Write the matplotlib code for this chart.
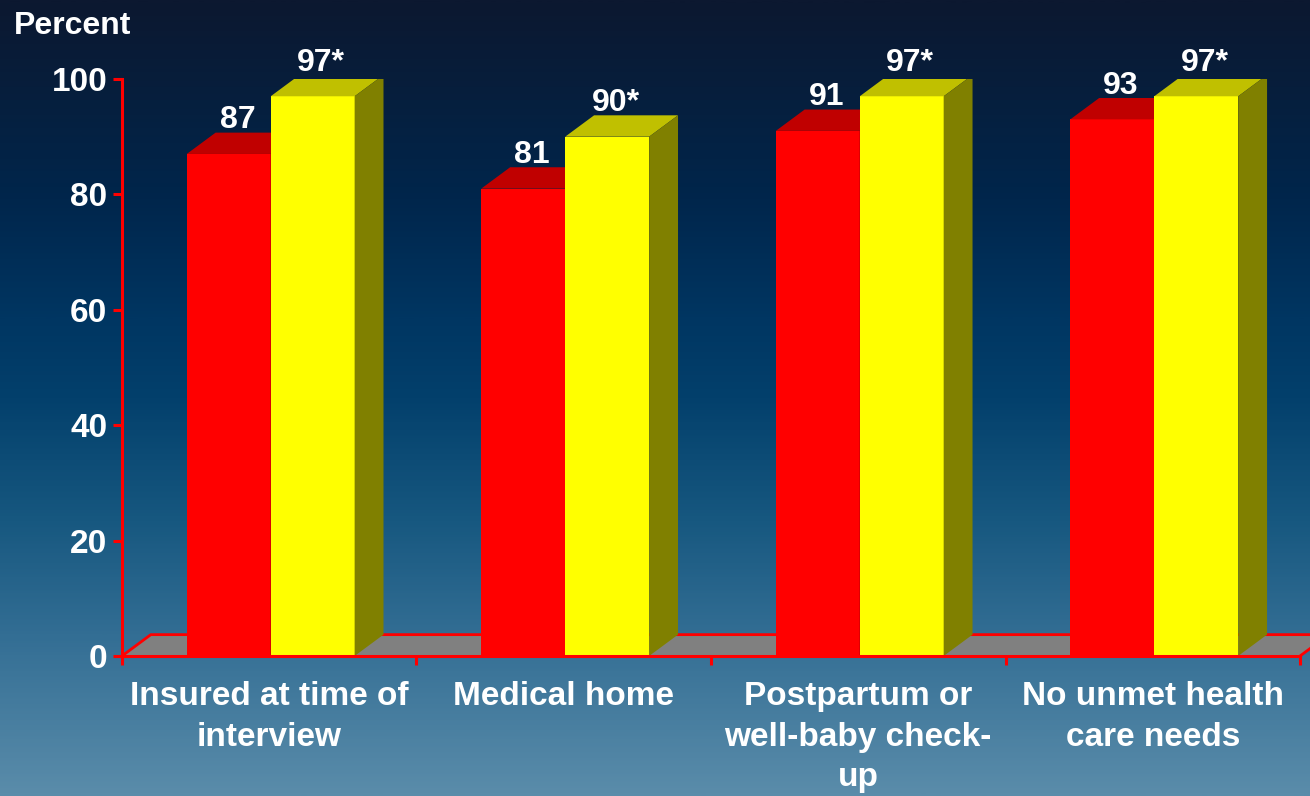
import matplotlib
matplotlib.use("Agg")
import matplotlib.pyplot as plt
import numpy as np
from matplotlib.colors import LinearSegmentedColormap
from matplotlib.patches import Polygon
from matplotlib.transforms import offset_copy

plt.rcParams["font.family"] = ["Liberation Sans", "DejaVu Sans"]
plt.rcParams["font.weight"] = "bold"

categories = [
    "Insured at time of\ninterview",
    "Medical home",
    "Postpartum or\nwell-baby check-\nup",
    "No unmet health\ncare needs",
]
before = [87, 81, 91, 93]
after = [97, 90, 97, 97]
before_labels = ["87", "81", "91", "93"]
after_labels = ["97*", "90*", "97*", "97*"]
y_ticks = [0, 20, 40, 60, 80, 100]

# faces: front, top, side
red_faces = ("#ff0000", "#c00000", "#800000")
yellow_faces = ("#ffff00", "#c0c000", "#808000")

DX = 0.098   # depth offset along x (category units)
DY = 3.7     # depth offset along y (percent units)
BAR_W = 0.285
OFFSET = 0.505

fig = plt.figure(figsize=(13.1, 7.96), dpi=100)

# vertical background gradient
bg = fig.add_axes([0, 0, 1, 1], zorder=-5)
bg_cmap = LinearSegmentedColormap.from_list(
    "slide",
    [(0.0, "#0c1830"), (0.25, "#00264c"), (0.4, "#003662"), (0.5, "#03406c"),
     (0.65, "#16577f"), (0.8, "#336e94"), (1.0, "#5a8caa")],
)
bg.imshow(np.linspace(0, 1, 400).reshape(-1, 1), aspect="auto", cmap=bg_cmap,
          extent=[0, 1, 0, 1])
bg.axis("off")

ax = fig.add_axes([0.0931, 0.1759, 0.8993, 0.7249])
ax.set_facecolor("none")
ax.set_xlim(0, len(categories))
ax.set_ylim(0, 100)


def box(x0, h, faces):
    x1 = x0 + BAR_W
    front, top, side = faces
    ax.add_patch(Polygon([(x0, 0), (x1, 0), (x1, h), (x0, h)], closed=True,
                         facecolor=front, edgecolor="none", zorder=2))
    ax.add_patch(Polygon([(x0, h), (x1, h), (x1 + DX, h + DY), (x0 + DX, h + DY)],
                         closed=True, facecolor=top, edgecolor="none", zorder=2))
    ax.add_patch(Polygon([(x1, 0), (x1 + DX, DY), (x1 + DX, h + DY), (x1, h)],
                         closed=True, facecolor=side, edgecolor="none", zorder=2))


# floor
n = len(categories)
ax.add_patch(Polygon([(0, 0), (n, 0), (n + DX, DY), (DX, DY)], closed=True,
                     facecolor="#808080", edgecolor="none", zorder=1, clip_on=False))
ax.plot([0, DX, n + DX, n + DX], [0, DY, DY, 0], color="#ff0000", lw=2,
        zorder=1.5, clip_on=False)
ax.plot([n, n + DX], [0, DY], color="#ff0000", lw=2, zorder=1.5, clip_on=False)

lbl_off = offset_copy(ax.transData, fig=fig, x=0, y=-2, units="points")
for i in range(n):
    xr = i + OFFSET - BAR_W
    xy = i + OFFSET
    box(xr, before[i], red_faces)
    box(xy, after[i], yellow_faces)
    ax.text(xr + BAR_W / 2 + DX * 0.3, before[i] + DY, before_labels[i],
            transform=lbl_off, ha="center", va="bottom", color="white",
            fontsize=23, fontweight="bold", zorder=4, clip_on=False)
    ax.text(xy + BAR_W / 2 + DX * 0.3, after[i] + DY, after_labels[i],
            transform=lbl_off, ha="center", va="bottom", color="white",
            fontsize=23, fontweight="bold", zorder=4, clip_on=False)

# axes styling
for side in ("top", "right"):
    ax.spines[side].set_visible(False)
for side in ("left", "bottom"):
    ax.spines[side].set_color("#ff0000")
    ax.spines[side].set_linewidth(2.2)
    ax.spines[side].set_zorder(3)

ax.set_yticks(y_ticks)
ax.set_yticklabels([str(v) for v in y_ticks])
ax.tick_params(axis="y", colors="#ff0000", length=6.5, width=2.2, pad=4,
               labelcolor="white", labelsize=24)

ax.set_xticks(np.arange(n + 1))
ax.set_xticklabels([])
ax.set_xticks(np.arange(n) + 0.5, minor=True)
ax.set_xticklabels(categories, minor=True, fontsize=24, fontweight="bold",
                   color="white", linespacing=1.4)
ax.tick_params(axis="x", which="major", colors="#ff0000", length=6.5, width=2.2)
ax.tick_params(axis="x", which="minor", length=0, pad=18)

fig.text(0.0107, 0.967, "Percent", ha="left", va="center", color="white",
         fontsize=23, fontweight="bold")

fig.savefig("out.png", dpi=100)
